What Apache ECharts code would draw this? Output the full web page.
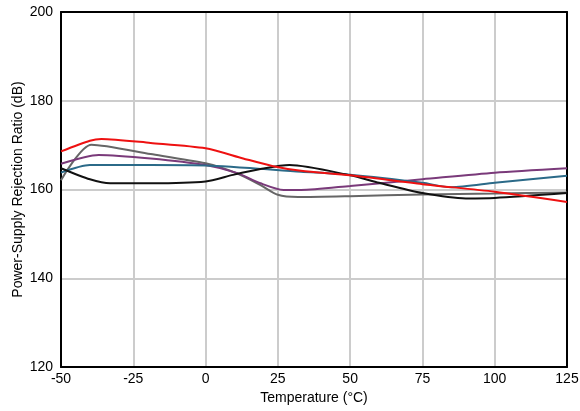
<!DOCTYPE html>
<html>
<head>
<meta charset="utf-8">
<style>
  html, body { margin: 0; padding: 0; background: #ffffff; }
  #chart { width: 580px; height: 411px; }
</style>
<script src="https://cdn.jsdelivr.net/npm/echarts@6/dist/echarts.min.js"></script>
</head>
<body>
<div id="chart"></div>
<script>
// PSRR vs temperature, five units
const redT    = [-50, -40, -36, -19, 0, 13, 23, 33, 50, 75, 100, 125];
const redV    = [168.6, 171.0, 171.4, 170.5, 169.3, 167.0, 165.3, 164.2, 163.2, 161.2, 159.5, 157.2];

const grayT   = [-50, -39.5, -19, 0, 11, 19, 25, 32, 50, 75, 100, 125];
const grayV   = [162.1, 170.1, 168.0, 165.9, 163.6, 161.0, 158.8, 158.3, 158.5, 158.9, 159.1, 159.3];

const purpleT = [-50, -37, -19, 0, 11, 19, 27, 33, 50, 75, 100, 125];
const purpleV = [165.8, 167.8, 167.0, 165.5, 163.7, 161.4, 159.9, 159.9, 160.8, 162.3, 163.8, 164.8];

const tealT   = [-50, -40, -19, 0, 33, 50, 75, 85, 100, 125];
const tealV   = [163.8, 165.5, 165.5, 165.4, 164.0, 163.3, 161.5, 160.5, 161.5, 163.1];

const blackT  = [-50, -40, -33, -19, 0, 9.5, 19, 29, 50, 60, 75, 90, 100, 125];
const blackV  = [164.8, 162.3, 161.4, 161.4, 161.8, 163.3, 164.6, 165.5, 163.2, 161.5, 159.2, 158.0, 158.1, 159.2];

const zip = (xs, ys) => xs.map((x, i) => [x, ys[i]]);

const font = 'Liberation Sans, Arial, sans-serif';
const frame = { show: true, onZero: false, lineStyle: { color: '#000000', width: 2 } };
const hidden = { show: false };

function line(name, xs, ys, color) {
  return {
    name: name,
    type: 'line',
    data: zip(xs, ys),
    smooth: 0.25,
    showSymbol: false,
    lineStyle: { color: color, width: 2 },
    itemStyle: { color: color }
  };
}

const chart = echarts.init(document.getElementById('chart'), null, { renderer: 'canvas' });
chart.setOption({
  animation: false,
  backgroundColor: '#ffffff',
  grid: {
    left: 61, right: 13, top: 12, bottom: 44,
    outerBoundsMode: 'none', containLabel: false
  },
  xAxis: [{
    type: 'value', min: -50, max: 125, interval: 25, position: 'bottom',
    name: 'Temperature (°C)', nameLocation: 'middle', nameGap: 24, nameMoveOverlap: false,
    nameTextStyle: { color: '#000', fontSize: 14, fontFamily: font },
    axisLine: frame, axisTick: hidden,
    axisLabel: { color: '#000', fontSize: 14, fontFamily: font, margin: 5 },
    splitLine: { show: true, lineStyle: { color: '#cccccc', width: 2 } }
  }, {
    type: 'value', min: -50, max: 125, interval: 25, position: 'top',
    axisLine: frame, axisTick: hidden, axisLabel: hidden, splitLine: hidden
  }],
  yAxis: [{
    type: 'value', min: 120, max: 200, interval: 20, position: 'left',
    name: 'Power-Supply Rejection Ratio (dB)', nameLocation: 'middle', nameGap: 36, nameMoveOverlap: false,
    nameTextStyle: { color: '#000', fontSize: 14, fontFamily: font },
    axisLine: frame, axisTick: hidden,
    axisLabel: { color: '#000', fontSize: 14, fontFamily: font, margin: 8 },
    splitLine: { show: true, lineStyle: { color: '#cccccc', width: 2 } }
  }, {
    type: 'value', min: 120, max: 200, interval: 20, position: 'right',
    axisLine: frame, axisTick: hidden, axisLabel: hidden, splitLine: hidden
  }],
  series: [
    line('Unit 1', grayT, grayV, '#666666'),
    line('Unit 2', purpleT, purpleV, '#7a3a7a'),
    line('Unit 3', tealT, tealV, '#2b6a88'),
    line('Unit 4', blackT, blackV, '#111111'),
    line('Unit 5', redT, redV, '#ee1111')
  ]
});
</script>
</body>
</html>
